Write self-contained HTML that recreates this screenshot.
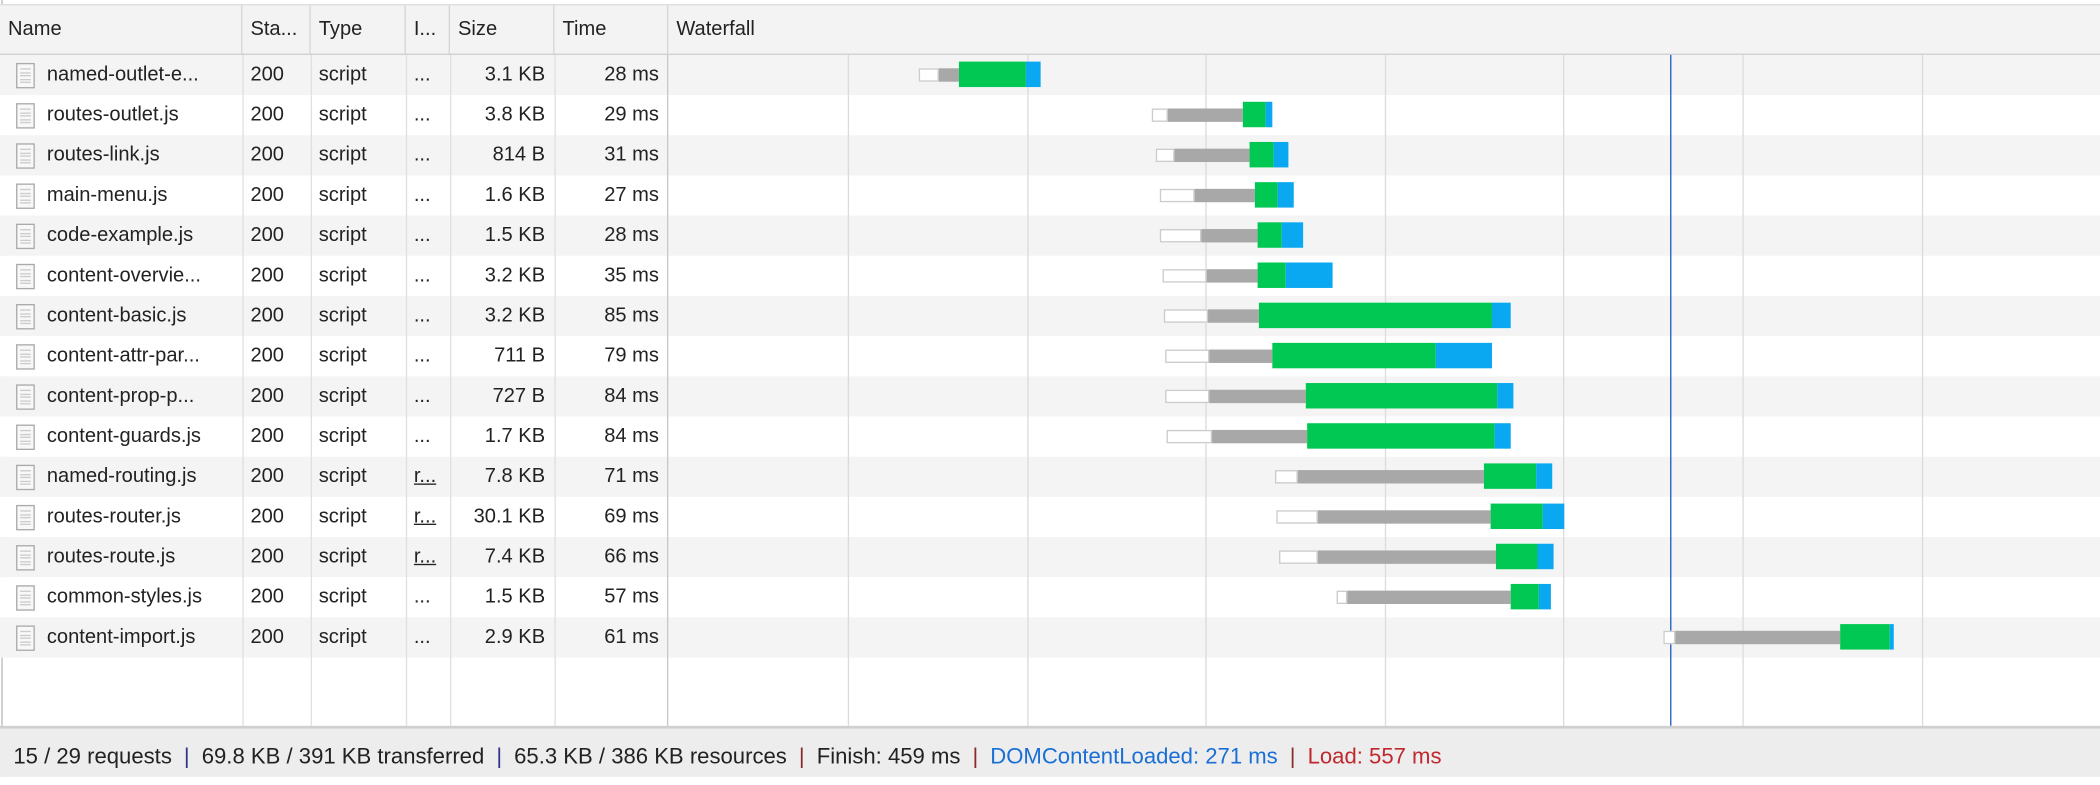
<!DOCTYPE html>
<html><head><meta charset="utf-8">
<style>
html,body{margin:0;padding:0;background:#fff;overflow:hidden;width:2100px;height:776px}
#wrap{position:absolute;left:0;top:0;width:1568px;height:580px;transform:scale(1.33929);transform-origin:0 0;font-family:"Liberation Sans",sans-serif;color:#222;font-size:15px}
.abs{position:absolute}
#hdr{left:0;top:3px;width:1568px;height:36px;background:#f3f3f3;border-bottom:2px solid #cfcfcf;border-top:1px solid #ddd}
.hc{position:absolute;top:0;height:36px;line-height:36px;padding-left:6px;border-right:1px solid #d6d6d6;box-sizing:border-box}
.row{position:absolute;left:0;width:1568px;height:30px}
.cell{position:absolute;top:0;height:30px;line-height:30px;white-space:nowrap;overflow:hidden}
.vl{position:absolute;width:1px;background:#e0e0e0}
.icon{position:absolute;left:12px;top:6px;width:12px;height:17px;border:1px solid #aaa;background:#f8f8f8}
.icon i{position:absolute;left:2px;width:8px;height:1px;background:#ccc}
#foot{left:0;top:542px;width:1568px;height:38px;background:#ededed;border-top:2px solid #cfcfcf;line-height:42px;padding-left:10px;box-sizing:border-box;font-size:16.5px;white-space:nowrap}
.sep{color:#8a2a2a;margin:0 9px}
</style></head><body>
<div id="wrap">
<div class="abs" style="left:1px;top:0;width:1px;height:580px;background:#bbb"></div>
<div id="hdr" class="abs">
<div class="hc" style="left:0;width:181px">Name</div>
<div class="hc" style="left:181px;width:51px">Sta...</div>
<div class="hc" style="left:232px;width:71px">Type</div>
<div class="hc" style="left:303px;width:33px">I...</div>
<div class="hc" style="left:336px;width:78px">Size</div>
<div class="hc" style="left:414px;width:85px">Time</div>
<div class="hc" style="left:499px;width:1069px;border:none">Waterfall</div>
</div>
<div id="body" class="abs" style="left:0;top:41px;width:1568px;height:501px"></div>
<div id="foot" class="abs"><span>15 / 29 requests</span><span class="sep" style="color:#33338a">|</span><span>69.8 KB / 391 KB transferred</span><span class="sep" style="color:#33338a">|</span><span>65.3 KB / 386 KB resources</span><span class="sep">|</span><span>Finish: 459 ms</span><span class="sep">|</span><span style="color:#1a6fd6">DOMContentLoaded: 271 ms</span><span class="sep">|</span><span style="color:#c0282d">Load: 557 ms</span></div>
</div>
<script>
const names=["named-outlet-e...","routes-outlet.js","routes-link.js","main-menu.js","code-example.js","content-overvie...","content-basic.js","content-attr-par...","content-prop-p...","content-guards.js","named-routing.js","routes-router.js","routes-route.js","common-styles.js","content-import.js"];
const statuses=[200,200,200,200,200,200,200,200,200,200,200,200,200,200,200];
const initiators=["...","...","...","...","...","...","...","...","...","...","r...","r...","r...","...","..."];
const sizes=["3.1 KB","3.8 KB","814 B","1.6 KB","1.5 KB","3.2 KB","3.2 KB","711 B","727 B","1.7 KB","7.8 KB","30.1 KB","7.4 KB","1.5 KB","2.9 KB"];
const times=["28 ms","29 ms","31 ms","27 ms","28 ms","35 ms","85 ms","79 ms","84 ms","84 ms","71 ms","69 ms","66 ms","57 ms","61 ms"];
const queueStart=[61.0,126.1,127.2,128.4,128.4,129.1,129.5,129.9,129.9,130.2,160.6,160.9,161.7,177.8,269.1];
const stallStart=[66.6,130.6,132.5,138.1,140.0,141.5,141.8,142.2,142.2,143.0,166.9,172.5,172.5,180.8,272.5];
const waitStart=[72.2,151.6,153.4,154.9,155.7,155.7,156.1,159.8,169.2,169.5,218.9,220.8,222.3,226.4,318.5];
const recvStart=[90.9,157.9,160.2,161.3,162.4,163.5,221.2,205.5,222.7,221.9,233.5,235.4,233.9,234.3,332.3];
const endTime=[95.1,159.8,164.3,165.8,168.4,176.6,226.4,221.2,227.2,226.4,238.0,241.4,238.4,237.6,333.5];
const gridTimes=[41.2,91.2,141.2,191.2,241.2,291.2,341.2];
const domContentLoaded=271;
const X0=523,K=2.672;
function xs(t){return X0+K*t;}
const body=document.getElementById('body');
const cols=[[0,181],[181,51],[232,71],[303,33],[336,78],[414,85]];
for(let i=0;i<names.length;i++){
  const r=document.createElement('div');r.className='row';r.style.top=(i*30)+'px';r.style.background=i%2===0?'#f4f4f4':'#fff';
  
  
  const ic=document.createElement('div');ic.className='icon';
  for(let k=0;k<5;k++){const l=document.createElement('i');l.style.top=(3+k*2.5)+'px';ic.appendChild(l);}
  
  
  r.appendChild(ic);
  const vals=[names[i],String(statuses[i]),'script',initiators[i],sizes[i],times[i]];
  const cn=['request-name','request-status','request-type','request-initiator','request-size','request-time'];
  for(let c=0;c<6;c++){
    const d=document.createElement('div');d.className='cell';d.textContent=vals[c];
    if(c===0){d.style.left='35px';d.style.width='142px';}
    else if(c>=4){d.style.left=cols[c][0]+'px';d.style.width=(cols[c][1]-7)+'px';d.style.textAlign='right';}
    else{d.style.left=(cols[c][0]+6)+'px';d.style.width=(cols[c][1]-8)+'px';}
    if(c===3&&initiators[i]!=='...')d.style.textDecoration='underline';
    
    
    r.appendChild(d);
  }
  body.appendChild(r);
}
[181,232,303,336,414].forEach(x=>{const v=document.createElement('div');v.className='vl';v.style.left=x+'px';v.style.top='0';v.style.height='501px';


body.appendChild(v);});
const wd=document.createElement('div');wd.className='vl';wd.style.left='498px';wd.style.top='0';wd.style.height='501px';wd.style.background='#c8c8c8';


body.appendChild(wd);
gridTimes.forEach(t=>{const v=document.createElement('div');v.className='vl';v.style.left=xs(t)+'px';v.style.top='0';v.style.height='501px';v.style.background='#dcdcdc';


body.appendChild(v);});
const dl=document.createElement('div');dl.className='vl';dl.style.left=xs(domContentLoaded)+'px';dl.style.top='0';dl.style.height='501px';dl.style.background='#1f5fc4';


body.appendChild(dl);
function seg(a,b,top,h,bg,border,name,row){
  const s=document.createElement('div');s.style.position='absolute';s.style.left=xs(a)+'px';s.style.width=Math.max(1,xs(b)-xs(a))+'px';
  s.style.top=(row*30+top)+'px';s.style.height=h+'px';s.style.background=bg;s.style.boxSizing='border-box';if(border)s.style.border=border;
  
  
  body.appendChild(s);
}
for(let i=0;i<names.length;i++){
  seg(queueStart[i],stallStart[i],10,10,'#fff','1.5px solid #ccc','queued-segment',i);
  seg(stallStart[i],waitStart[i],10,10,'#a8a8a8',null,'stalled-segment',i);
  seg(waitStart[i],recvStart[i],5,19,'#00c853',null,'waiting-segment',i);
  seg(recvStart[i],endTime[i],5,19,'#0aa8f0',null,'download-segment',i);
}
</script>
</body></html>
